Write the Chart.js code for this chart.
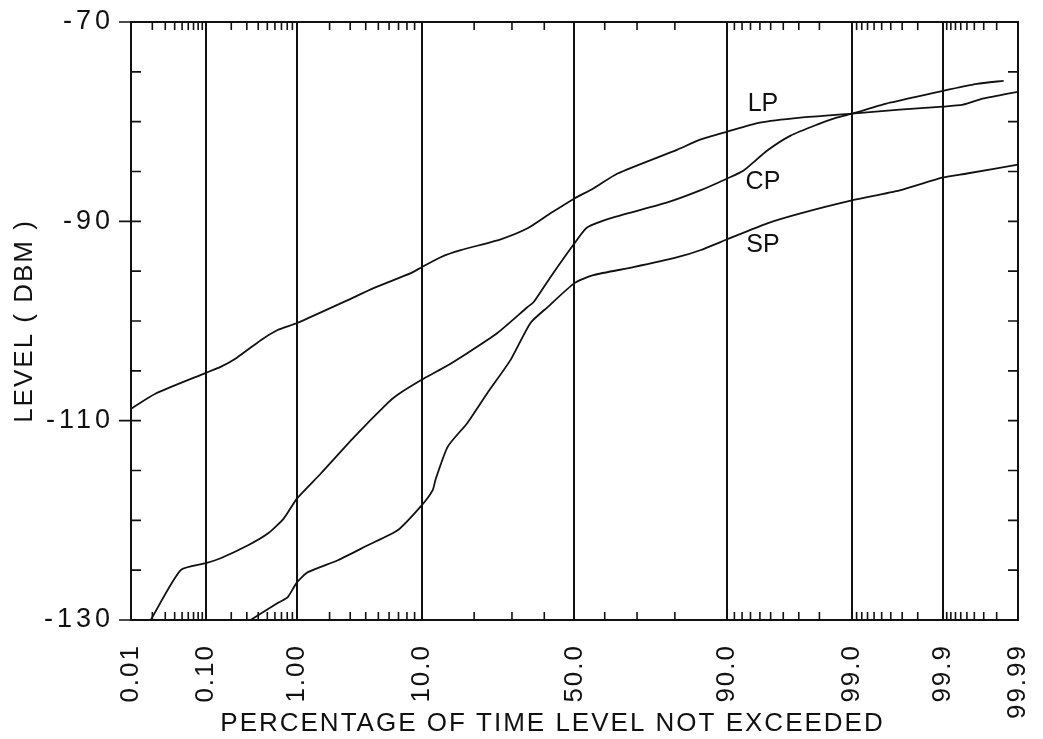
<!DOCTYPE html>
<html lang="en">
<head>
  <meta charset="UTF-8">
  <title>Level vs percentage of time</title>
  <script src="https://cdn.jsdelivr.net/npm/chart.js"></script>
  <style>
    body { margin: 0; background: #fff; }
    .chart-box { width: 1043px; height: 739px; }
  </style>
</head>
<body>
  <div class="chart-box">
    <canvas id="levelChart"></canvas>
  </div>

  <script>
    // x axis: percentage of time (normal probability scale)
    const majorPct = [0.01, 0.1, 1, 10, 50, 90, 99, 99.9, 99.99];
    const majorLabels = ['0.01', '0.10', '1.00', '10.0', '50.0', '90.0', '99.0', '99.9', '99.99'];
    const minorPct = [
      0.02, 0.03, 0.04, 0.05, 0.06, 0.07, 0.08, 0.09,
      0.2, 0.3, 0.4, 0.5, 0.6, 0.7, 0.8, 0.9,
      2, 3, 4, 5, 6, 7, 8, 9,
      20, 30, 40, 60, 70, 80,
      91, 92, 93, 94, 95, 96, 97, 98,
      99.1, 99.2, 99.3, 99.4, 99.5, 99.6, 99.7, 99.8,
      99.91, 99.92, 99.93, 99.94, 99.95, 99.96, 99.97, 99.98
    ];
    const xTitle = 'PERCENTAGE OF TIME LEVEL NOT EXCEEDED';

    // LP curve
    const lpTime = [0.01, 0.022, 0.1, 0.15, 0.23, 0.43, 0.64, 1.0, 2.87, 4.6, 8.5, 10, 13.1, 17, 26.8, 34.7, 42, 50,
      56.3, 64.1, 80.6, 85.4, 90, 94, 97.1, 99, 99.68, 99.9, 99.944, 99.969, 99.99];
    const lpLevel = [-108.8, -107.3, -105.2, -104.6, -103.7, -101.9, -100.9, -100.2, -97.9, -96.7, -95.2, -94.6, -93.6, -92.9, -91.8, -90.7, -89.2, -87.7,
      -86.7, -85.2, -82.8, -81.8, -81.0, -80.1, -79.6, -79.2, -78.8, -78.5, -78.3, -77.7, -77.0];

    // CP curve
    const cpTime = [0.019, 0.048, 0.1, 0.15, 0.31, 0.51, 0.74, 1.0, 1.67, 3.2, 5.9, 6.9, 10, 13.6, 18.5, 25.9, 34.7, 36.6, 42, 50,
      54.3, 62.8, 78.2, 85.4, 90, 92.2, 94.7, 96.5, 97.9, 98.6, 99, 99.59, 99.9, 99.963, 99.984];
    const cpLevel = [-130, -125.0, -124.3, -123.8, -122.5, -121.3, -119.8, -117.8, -115.3, -111.7, -108.2, -107.4, -105.9, -104.7, -103.2, -101.2, -98.6, -98.1, -95.6, -92.2,
      -90.6, -89.6, -88.1, -86.9, -85.7, -84.9, -82.9, -81.4, -80.3, -79.6, -79.2, -78.1, -76.9, -76.2, -75.9];

    // SP curve
    const spTime = [0.33, 0.64, 0.81, 1.0, 1.27, 2.36, 4.15, 6.9, 10, 11.7, 12.2, 14.4, 18.5, 23.3, 29.6, 35.6, 41.1, 50,
      56.3, 68.9, 80.6, 85.4, 90, 94.7, 97.1, 99, 99.68, 99.9, 99.95, 99.99];
    const spLevel = [-130, -128.3, -127.7, -126.2, -125.2, -124.0, -122.5, -121.0, -118.5, -117.0, -115.9, -112.6, -110.2, -107.2, -103.9, -100.2, -98.6, -96.2,
      -95.4, -94.6, -93.6, -92.9, -91.8, -90.2, -89.2, -87.9, -86.9, -85.6, -85.2, -84.3];

    // curve names and where they are written (percent, dBm)
    const seriesNames = ['LP', 'CP', 'SP'];
    const nameTime = [94.3, 94.3, 94.3];
    const nameLevel = [-78.2, -86.05, -92.4];

    // inverse normal CDF (Acklam)
    function probit(p) {
      const a = [-3.969683028665376e+01, 2.209460984245205e+02, -2.759285104469687e+02, 1.383577518672690e+02, -3.066479806614716e+01, 2.506628277459239e+00];
      const b = [-5.447609879822406e+01, 1.615858368580409e+02, -1.556989798598866e+02, 6.680131188771972e+01, -1.328068155288572e+01];
      const c = [-7.784894002430293e-03, -3.223964580411365e-01, -2.400758277161838e+00, -2.549732539343734e+00, 4.374664141464968e+00, 2.938163982698783e+00];
      const d = [7.784695709041462e-03, 3.224671290700398e-01, 2.445134137142996e+00, 3.754408661907416e+00];
      const pl = 0.02425;
      let q, r;
      if (p < pl) {
        q = Math.sqrt(-2 * Math.log(p));
        return (((((c[0]*q+c[1])*q+c[2])*q+c[3])*q+c[4])*q+c[5]) / ((((d[0]*q+d[1])*q+d[2])*q+d[3])*q+1);
      }
      if (p > 1 - pl) {
        q = Math.sqrt(-2 * Math.log(1 - p));
        return -(((((c[0]*q+c[1])*q+c[2])*q+c[3])*q+c[4])*q+c[5]) / ((((d[0]*q+d[1])*q+d[2])*q+d[3])*q+1);
      }
      q = p - 0.5;
      r = q * q;
      return (((((a[0]*r+a[1])*r+a[2])*r+a[3])*r+a[4])*r+a[5])*q / (((((b[0]*r+b[1])*r+b[2])*r+b[3])*r+b[4])*r+1);
    }

    function toPoints(time, level) {
      return time.map((t, i) => ({ x: probit(t / 100), y: level[i] }));
    }

    const curveStyle = {
      borderColor: '#111',
      borderWidth: 1.8,
      pointRadius: 0,
      showLine: true,
      tension: 0.2,
      fill: false
    };

    // frame, minor ticks, x title and curve names
    const frameTicks = {
      id: 'frameTicks',
      beforeDraw(chart) {
        chart.ctx.letterSpacing = '2px';
      },
      afterUpdate(chart) {
        const ys = chart.scales.y;
        if (!ys._spaced) {
          const orig = ys.drawLabels.bind(ys);
          ys.drawLabels = function(area) {
            const c = this.ctx;
            c.save();
            c.letterSpacing = '4px';
            orig(area);
            c.restore();
          };
          ys._spaced = true;
        }
      },
      afterDatasetsDraw(chart) {
        const { ctx, chartArea: a, scales: { x, y } } = chart;
        ctx.save();
        ctx.strokeStyle = '#111';
        ctx.lineWidth = 2;
        ctx.strokeRect(a.left, a.top, a.right - a.left, a.bottom - a.top);

        ctx.lineWidth = 1.6;
        ctx.beginPath();
        minorPct.forEach(p => {
          const px = x.getPixelForValue(probit(p / 100));
          ctx.moveTo(px, a.top);
          ctx.lineTo(px, a.top + 8);
          ctx.moveTo(px, a.bottom);
          ctx.lineTo(px, a.bottom - 8);
        });
        for (let v = -130; v <= -70; v += 5) {
          const py = y.getPixelForValue(v);
          const labelled = (v + 130) % 20 === 0;
          ctx.moveTo(a.left - (labelled ? 12 : 0), py);
          ctx.lineTo(a.left + 10, py);
          ctx.moveTo(a.right, py);
          ctx.lineTo(a.right - 10, py);
        }
        ctx.stroke();

        ctx.fillStyle = '#111';
        ctx.textAlign = 'center';
        ctx.textBaseline = 'middle';

        // axis title sits a little left of the plot centre in the original
        ctx.font = '26px "Liberation Sans"';
        ctx.letterSpacing = '2px';
        ctx.fillText(xTitle, (a.left + a.right) / 2 - 22, a.bottom + 104);

        ctx.font = '25px "Liberation Sans"';
        ctx.letterSpacing = '0px';
        seriesNames.forEach((name, i) => {
          ctx.fillText(name, x.getPixelForValue(probit(nameTime[i] / 100)), y.getPixelForValue(nameLevel[i]));
        });
        ctx.restore();
      }
    };

    Chart.defaults.font.family = '"Liberation Sans", Arial, sans-serif';
    Chart.defaults.color = '#111';

    new Chart(document.getElementById('levelChart'), {
      type: 'scatter',
      data: {
        datasets: [
          { label: 'LP', data: toPoints(lpTime, lpLevel), ...curveStyle },
          { label: 'CP', data: toPoints(cpTime, cpLevel), ...curveStyle },
          { label: 'SP', data: toPoints(spTime, spLevel), ...curveStyle }
        ]
      },
      options: {
        responsive: true,
        maintainAspectRatio: false,
        animation: false,
        layout: { padding: { top: 22, right: 25, left: 0, bottom: 0 } },
        plugins: {
          legend: { display: false },
          tooltip: { enabled: false }
        },
        scales: {
          x: {
            type: 'linear',
            min: probit(0.0001),
            max: probit(0.9999),
            afterBuildTicks: scale => {
              scale.ticks = majorPct.map(p => ({ value: probit(p / 100) }));
            },
            afterFit: scale => {
              scale.height = 119;
              scale.paddingLeft = 0;
              scale.paddingRight = 0;
            },
            ticks: {
              autoSkip: false,
              minRotation: 90,
              maxRotation: 90,
              padding: 24,
              font: { size: 26 },
              callback: (v, i) => majorLabels[i]
            },
            grid: { color: '#111', lineWidth: 2, drawTicks: false },
            border: { display: false },
            title: { display: false }
          },
          y: {
            min: -130,
            max: -70,
            afterFit: scale => {
              scale.width = 131;
              scale.paddingTop = 0;
              scale.paddingBottom = 0;
            },
            ticks: {
              stepSize: 20,
              padding: 9,
              font: { size: 27 }
            },
            grid: { display: false },
            border: { display: false },
            title: {
              display: true,
              text: 'LEVEL ( DBM )',
              font: { size: 26 },
              padding: { top: 9, bottom: 0 }
            }
          }
        }
      },
      plugins: [frameTicks]
    });
  </script>
</body>
</html>
